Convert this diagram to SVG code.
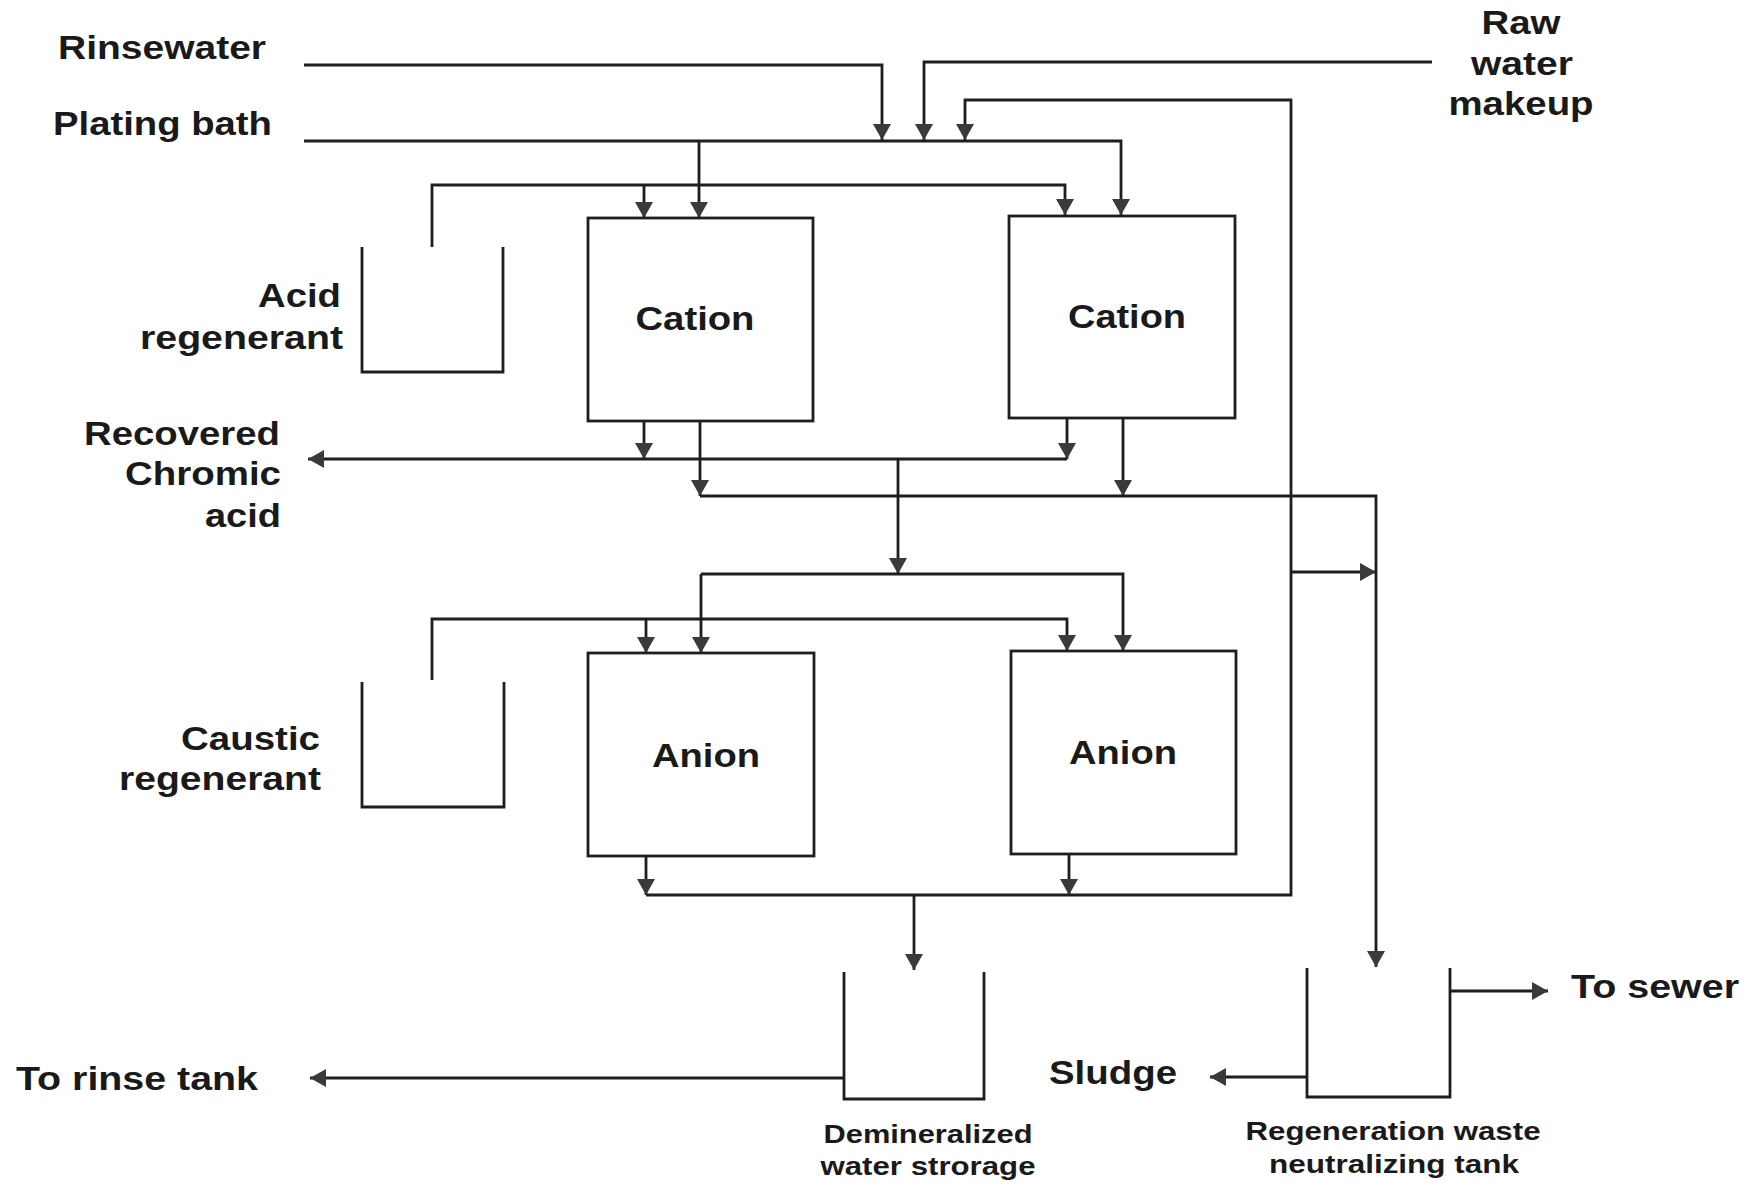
<svg xmlns="http://www.w3.org/2000/svg" width="1750" height="1188" viewBox="0 0 1750 1188">
<style>
.bg{fill:#ffffff}
.box{fill:none;stroke:#1e1e1e;stroke-width:2.8}
.tank{fill:none;stroke:#1e1e1e;stroke-width:2.8}
.pipe{fill:none;stroke:#1e1e1e;stroke-width:2.8}
.big{font-family:"Liberation Sans",Arial,sans-serif;font-weight:bold;font-size:33px;fill:#1a1a1a}
.small{font-family:"Liberation Sans",Arial,sans-serif;font-weight:bold;font-size:26.5px;fill:#1a1a1a}
</style>
<defs>
<marker id="arr" viewBox="0 0 17 18" markerUnits="userSpaceOnUse" markerWidth="17" markerHeight="18" refX="16" refY="9" orient="auto">
<path d="M0,0 L16,9 L0,18 z" fill="#3a3a3a"/>
</marker>
</defs>
<rect class="bg" x="0" y="0" width="1750" height="1188"/>

<g id="connectors">
<path class="pipe" d="M304,65 H882 V140" marker-end="url(#arr)"/>
<path class="pipe" d="M1432,62 H924 V140" marker-end="url(#arr)"/>
<path class="pipe" d="M646,895 H1291 V100 H965 V140" marker-end="url(#arr)"/>
<path class="pipe" d="M1291,572 H1376" marker-end="url(#arr)"/>
<path class="pipe" d="M304,141 H1121 V215" marker-end="url(#arr)"/>
<path class="pipe" d="M699,141 V218" marker-end="url(#arr)"/>
<path class="pipe" d="M432,247 V185 H1065 V215" marker-end="url(#arr)"/>
<path class="pipe" d="M644,185 V218" marker-end="url(#arr)"/>
<path class="pipe" d="M644,421 V459" marker-end="url(#arr)"/>
<path class="pipe" d="M1067,418 V459" marker-end="url(#arr)"/>
<path class="pipe" d="M1067,459 H308" marker-end="url(#arr)"/>
<path class="pipe" d="M700,421 V496" marker-end="url(#arr)"/>
<path class="pipe" d="M1123,418 V496" marker-end="url(#arr)"/>
<path class="pipe" d="M700,496 H1376 V967" marker-end="url(#arr)"/>
<path class="pipe" d="M898,459 V574" marker-end="url(#arr)"/>
<path class="pipe" d="M701,574 H1123 V651" marker-end="url(#arr)"/>
<path class="pipe" d="M701,574 V653" marker-end="url(#arr)"/>
<path class="pipe" d="M432,680 V619 H1067 V651" marker-end="url(#arr)"/>
<path class="pipe" d="M646,619 V653" marker-end="url(#arr)"/>
<path class="pipe" d="M646,857 V895" marker-end="url(#arr)"/>
<path class="pipe" d="M1069,855 V895" marker-end="url(#arr)"/>
<path class="pipe" d="M914,895 V970" marker-end="url(#arr)"/>
<path class="pipe" d="M844,1078 H310" marker-end="url(#arr)"/>
<path class="pipe" d="M1450,991 H1548" marker-end="url(#arr)"/>
<path class="pipe" d="M1307,1077 H1210" marker-end="url(#arr)"/>
</g>

<g id="rinsewater"><text class="big" x="58" y="59" textLength="208" lengthAdjust="spacingAndGlyphs">Rinsewater</text></g>
<g id="plating-bath"><text class="big" x="53" y="135" textLength="219" lengthAdjust="spacingAndGlyphs">Plating bath</text></g>
<g id="raw-water">
<text class="big" x="1521" y="34" text-anchor="middle" textLength="79" lengthAdjust="spacingAndGlyphs">Raw</text>
<text class="big" x="1522" y="75" text-anchor="middle" textLength="102" lengthAdjust="spacingAndGlyphs">water</text>
<text class="big" x="1521" y="115" text-anchor="middle" textLength="145" lengthAdjust="spacingAndGlyphs">makeup</text>
</g>

<g id="acid-regenerant">
<path class="tank" d="M362,247 V372 H503 V247"/>
<text class="big" x="341" y="307" text-anchor="end" textLength="83" lengthAdjust="spacingAndGlyphs">Acid</text>
<text class="big" x="343" y="349" text-anchor="end" textLength="203" lengthAdjust="spacingAndGlyphs">regenerant</text>
</g>

<g id="cation-1">
<rect class="box" x="588" y="218" width="225" height="203"/>
<text class="big" x="695" y="330" text-anchor="middle" textLength="119" lengthAdjust="spacingAndGlyphs">Cation</text>
</g>
<g id="cation-2">
<rect class="box" x="1009" y="216" width="226" height="202"/>
<text class="big" x="1127" y="328" text-anchor="middle" textLength="118" lengthAdjust="spacingAndGlyphs">Cation</text>
</g>

<g id="recovered-chromic-acid">
<text class="big" x="280" y="445" text-anchor="end" textLength="196" lengthAdjust="spacingAndGlyphs">Recovered</text>
<text class="big" x="281" y="485" text-anchor="end" textLength="156" lengthAdjust="spacingAndGlyphs">Chromic</text>
<text class="big" x="281" y="527" text-anchor="end" textLength="76" lengthAdjust="spacingAndGlyphs">acid</text>
</g>

<g id="caustic-regenerant">
<path class="tank" d="M362,682 V807 H504 V682"/>
<text class="big" x="320" y="750" text-anchor="end" textLength="139" lengthAdjust="spacingAndGlyphs">Caustic</text>
<text class="big" x="321" y="790" text-anchor="end" textLength="202" lengthAdjust="spacingAndGlyphs">regenerant</text>
</g>

<g id="anion-1">
<rect class="box" x="588" y="653" width="226" height="203"/>
<text class="big" x="706" y="767" text-anchor="middle" textLength="108" lengthAdjust="spacingAndGlyphs">Anion</text>
</g>
<g id="anion-2">
<rect class="box" x="1011" y="651" width="225" height="203"/>
<text class="big" x="1123" y="764" text-anchor="middle" textLength="108" lengthAdjust="spacingAndGlyphs">Anion</text>
</g>

<g id="demineralized-water-storage">
<path class="tank" d="M844,972 V1099 H984 V972"/>
<text class="small" x="928" y="1143" text-anchor="middle" textLength="209" lengthAdjust="spacingAndGlyphs">Demineralized</text>
<text class="small" x="928" y="1175" text-anchor="middle" textLength="215" lengthAdjust="spacingAndGlyphs">water strorage</text>
</g>

<g id="neutralizing-tank">
<path class="tank" d="M1307,968 V1097 H1450 V968"/>
<text class="small" x="1393" y="1140" text-anchor="middle" textLength="295" lengthAdjust="spacingAndGlyphs">Regeneration waste</text>
<text class="small" x="1394" y="1173" text-anchor="middle" textLength="250" lengthAdjust="spacingAndGlyphs">neutralizing tank</text>
</g>

<g id="to-rinse-tank"><text class="big" x="16" y="1090" textLength="242" lengthAdjust="spacingAndGlyphs">To rinse tank</text></g>
<g id="sludge"><text class="big" x="1049" y="1084" textLength="128" lengthAdjust="spacingAndGlyphs">Sludge</text></g>
<g id="to-sewer"><text class="big" x="1571" y="998" textLength="168" lengthAdjust="spacingAndGlyphs">To sewer</text></g>
</svg>
